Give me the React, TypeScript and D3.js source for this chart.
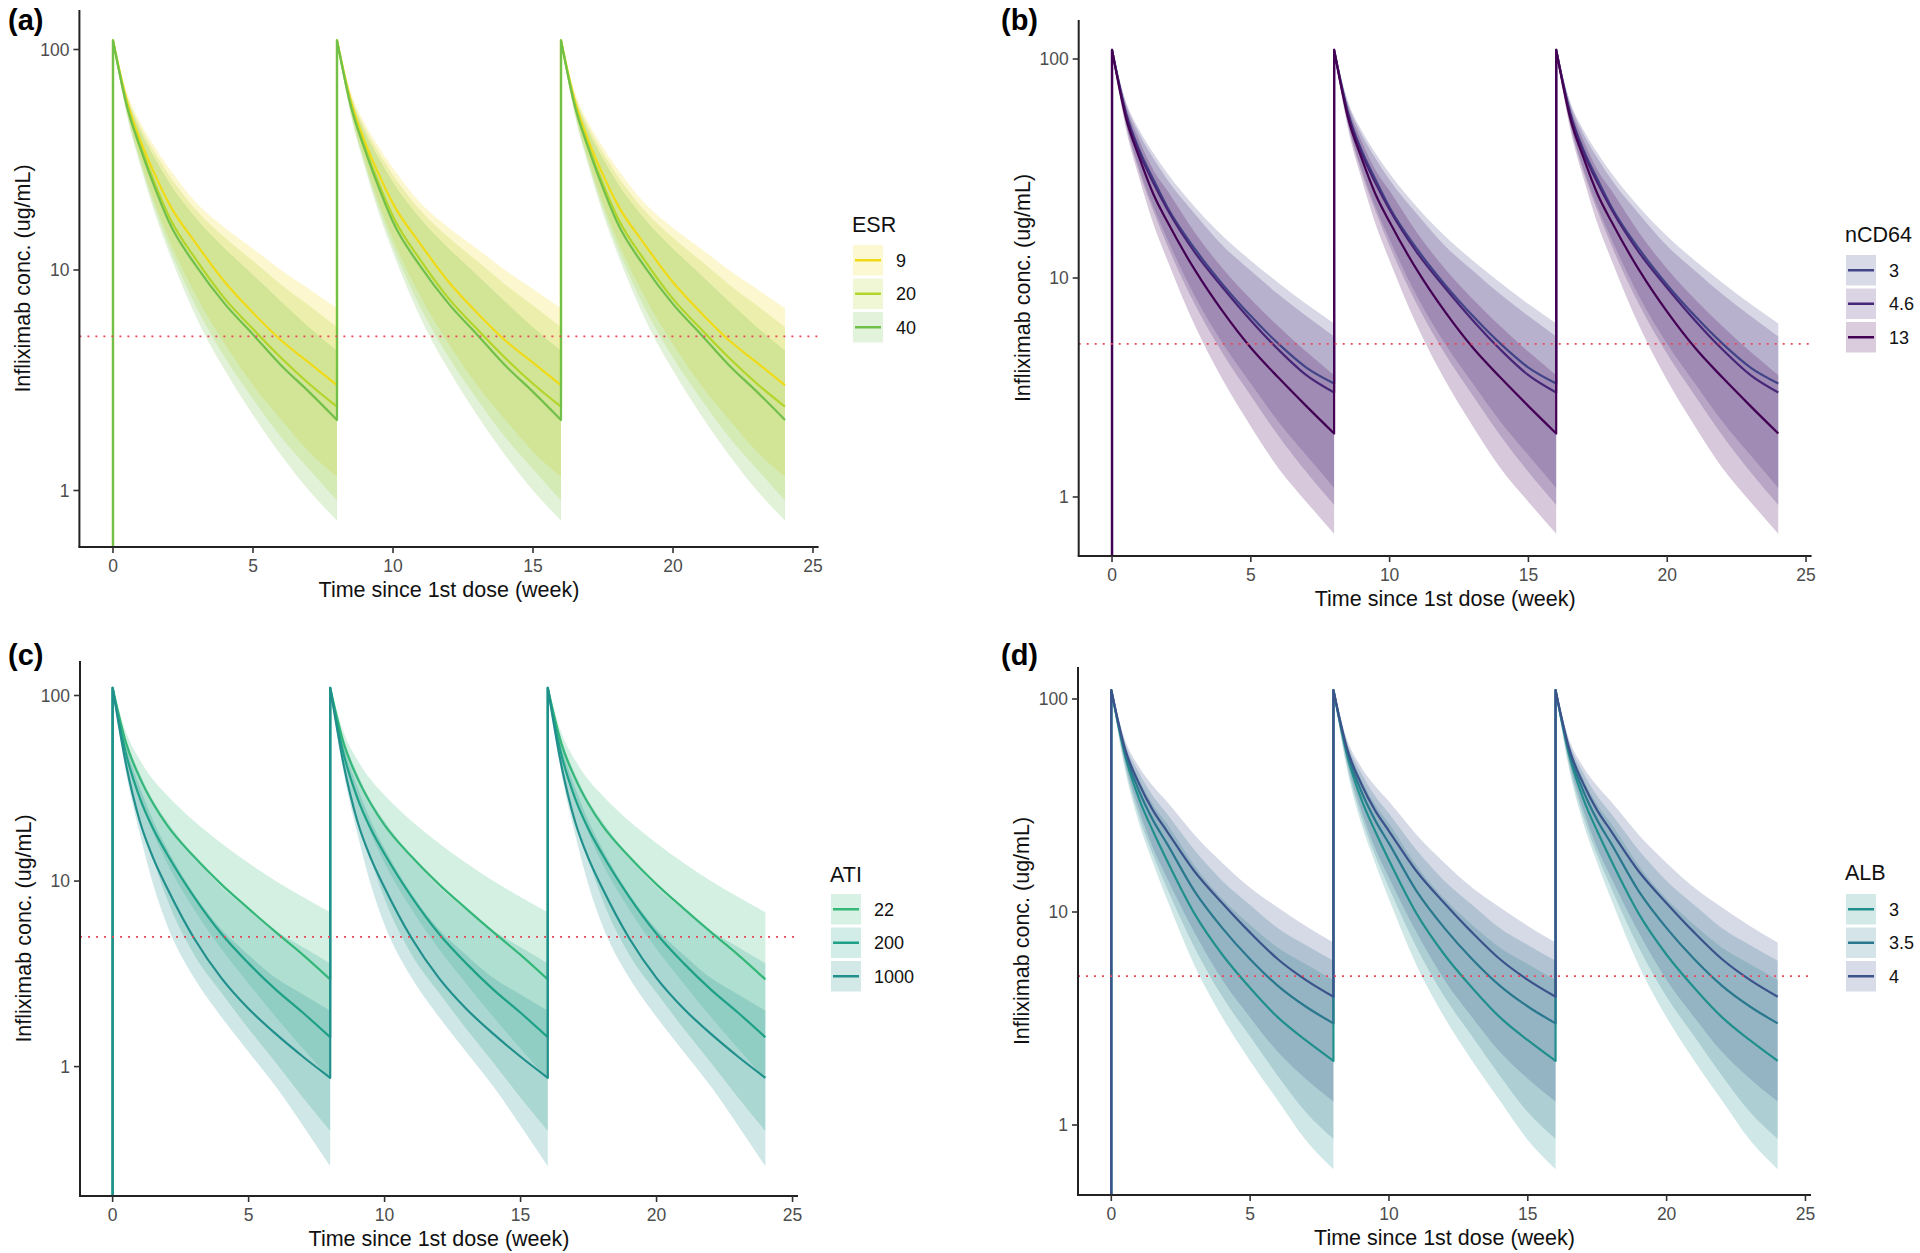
import React from "react";
import * as d3 from "d3";

// ---------- shared data ----------
const CYCLE_WEEKS = [0, 0.5, 1, 1.5, 2, 3, 4, 5, 6, 7, 8];
const DOSE_WEEKS = [0, 8, 16];
const X_TICKS = [0, 5, 10, 15, 20, 25];
const Y_TICKS = [1, 10, 100];
const TARGET_CONC = 5;
const X_TITLE = "Time since 1st dose (week)";
const Y_TITLE = "Infliximab conc. (ug/mL)";

// ---------- (a) ESR ----------
const ESR_LEVELS = ["9", "20", "40"];
const ESR_COLORS = ["#F0DA18", "#B3D52B", "#70C04A"];
const ESR_MEDIAN = [
  [110, 58, 38, 27, 20, 13, 8.8, 6.4, 4.8, 3.8, 3.0],
  [110, 56, 36, 24.5, 17.5, 11, 7.4, 5.4, 4.0, 3.05, 2.4],
  [110, 55, 35, 23.5, 16.5, 10.3, 7.0, 5.1, 3.7, 2.8, 2.09],
];
const ESR_UPPER = [
  [112, 64, 46, 36, 29, 20, 15.5, 12.5, 10, 8.2, 6.7],
  [111, 62, 44, 34, 27, 18.5, 14, 11, 8.6, 6.9, 5.5],
  [111, 61, 42, 32, 25, 17, 12.5, 9.5, 7.2, 5.5, 4.3],
];
const ESR_LOWER = [
  [108, 52, 31, 20, 13.8, 7.5, 4.6, 3.0, 2.1, 1.5, 1.15],
  [108, 51, 30, 19, 12.8, 6.7, 4.0, 2.6, 1.75, 1.25, 0.9],
  [108, 50, 29, 18, 12, 6.0, 3.5, 2.2, 1.45, 1.0, 0.73],
];

// ---------- (b) nCD64 ----------
const NCD64_LEVELS = ["3", "4.6", "13"];
const NCD64_COLORS = ["#414487", "#482677", "#440154"];
const NCD64_MEDIAN = [
  [110, 57, 38, 28, 21, 13.5, 9.3, 6.7, 5.0, 3.9, 3.3],
  [110, 56, 37, 27, 20.5, 13, 9.0, 6.4, 4.7, 3.6, 3.0],
  [110, 54, 35, 24, 18, 10.8, 7.0, 4.8, 3.5, 2.6, 1.95],
];
const NCD64_UPPER = [
  [112, 64, 47, 37, 30, 21, 15.5, 12, 9.5, 7.6, 6.2],
  [112, 63, 45, 35, 28, 19.5, 14, 10.8, 8.4, 6.7, 5.4],
  [111, 61, 42, 31, 25, 16, 11, 8.0, 6.0, 4.6, 3.6],
];
const NCD64_LOWER = [
  [108, 51, 31, 21, 15, 8.2, 5.0, 3.3, 2.2, 1.55, 1.1],
  [108, 50, 30, 20, 14, 7.5, 4.5, 2.9, 1.9, 1.3, 0.92],
  [108, 48, 28, 17.5, 12, 6.0, 3.4, 2.1, 1.35, 0.95, 0.68],
];

// ---------- (c) ATI ----------
const ATI_LEVELS = ["22", "200", "1000"];
const ATI_COLORS = ["#35B779", "#1FA187", "#21908C"];
const ATI_MEDIAN = [
  [110, 55, 36, 26, 20, 13.5, 9.6, 7.1, 5.3, 4.0, 2.95],
  [110, 48, 28, 19, 14, 8.2, 5.2, 3.6, 2.6, 1.95, 1.44],
  [110, 42, 21, 13.2, 9.2, 4.9, 3.0, 2.05, 1.5, 1.13, 0.87],
];
const ATI_UPPER = [
  [112, 63, 45, 35, 29, 21, 16, 12.5, 10, 8.2, 6.8],
  [111, 58, 38, 27, 21, 13.5, 9.3, 7.0, 5.4, 4.4, 3.6],
  [111, 53, 32, 21, 15, 8.5, 5.5, 4.0, 3.0, 2.45, 2.0],
];
const ATI_LOWER = [
  [108, 48, 28, 18, 12.5, 7.0, 4.3, 2.8, 1.85, 1.25, 0.85],
  [108, 42, 22, 13, 8.0, 4.0, 2.5, 1.6, 1.05, 0.68, 0.45],
  [108, 38, 18, 9.5, 5.8, 3.0, 1.85, 1.2, 0.78, 0.48, 0.29],
];

// ---------- (d) ALB ----------
const ALB_LEVELS = ["3", "3.5", "4"];
const ALB_COLORS = ["#21908C", "#2A788E", "#3B528B"];
const ALB_MEDIAN = [
  [110, 54, 34, 24, 17.5, 9.8, 6.3, 4.4, 3.2, 2.5, 2.0],
  [110, 56, 37, 27, 21, 12.5, 8.4, 6.0, 4.5, 3.6, 3.0],
  [110, 58, 40, 30, 24, 15.5, 11, 8.0, 6.0, 4.8, 4.0],
];
const ALB_UPPER = [
  [111, 60, 42, 32, 26, 16.5, 11.5, 8.7, 6.8, 5.7, 4.8],
  [112, 62, 45, 35, 29, 19.5, 14, 10.8, 8.4, 7.0, 5.9],
  [112, 64, 48, 39, 33, 23, 17, 13, 10.5, 8.6, 7.2],
];
const ALB_LOWER = [
  [108, 46, 26, 17, 11.5, 5.6, 3.2, 2.0, 1.3, 0.85, 0.62],
  [108, 48, 28, 18.5, 13, 6.8, 4.0, 2.6, 1.7, 1.15, 0.86],
  [108, 50, 30, 20, 14.5, 8.0, 4.8, 3.2, 2.2, 1.65, 1.29],
];

// ---------- layout (positions only) ----------
const PANELS = [
  {
    tag: "(a)", tagX: 8, tagY: 30, name: "ESR",
    levels: ESR_LEVELS, colors: ESR_COLORS, median: ESR_MEDIAN, upper: ESR_UPPER, lower: ESR_LOWER,
    x0: 79.4, x1: 818.6, top: 10, bottom: 547, y100: 49.5, y1: 490.5,
    legX: 852, legTitleY: 232, legTop: 245,
  },
  {
    tag: "(b)", tagX: 1001, tagY: 30, name: "nCD64",
    levels: NCD64_LEVELS, colors: NCD64_COLORS, median: NCD64_MEDIAN, upper: NCD64_UPPER, lower: NCD64_LOWER,
    x0: 1078.7, x1: 1811.6, top: 20, bottom: 556, y100: 59, y1: 497,
    legX: 1845, legTitleY: 242, legTop: 255,
  },
  {
    tag: "(c)", tagX: 8, tagY: 665, name: "ATI",
    levels: ATI_LEVELS, colors: ATI_COLORS, median: ATI_MEDIAN, upper: ATI_UPPER, lower: ATI_LOWER,
    x0: 80, x1: 798, top: 661, bottom: 1196, y100: 695.5, y1: 1066.6,
    legX: 830, legTitleY: 882, legTop: 894,
  },
  {
    tag: "(d)", tagX: 1001, tagY: 665, name: "ALB",
    levels: ALB_LEVELS, colors: ALB_COLORS, median: ALB_MEDIAN, upper: ALB_UPPER, lower: ALB_LOWER,
    x0: 1078, x1: 1811, top: 667, bottom: 1195, y100: 699, y1: 1125,
    legX: 1845, legTitleY: 880, legTop: 894,
  },
];

const FONT = "'Liberation Sans', Arial, Helvetica, sans-serif";

function Panel({ p, idx }: { p: any; idx: number }) {
  const xs = d3.scaleLinear().domain([-1.2, 25.2]).range([p.x0, p.x1]);
  const ys = d3.scaleLog().domain([1, 100]).range([p.y1, p.y100]);
  const clipId = `clip-${idx}`;

  const lineGen = d3
    .line<[number, number]>()
    .x((d) => xs(d[0]))
    .y((d) => ys(d[1]))
    .curve(d3.curveMonotoneX);

  const areaGen = d3
    .area<[number, number, number]>()
    .x((d) => xs(d[0]))
    .y0((d) => ys(d[1]))
    .y1((d) => ys(d[2]))
    .curve(d3.curveMonotoneX);

  const ribbons: any[] = [];
  const lines: any[] = [];
  p.levels.forEach((lev: string, g: number) => {
    let path = `M${xs(0)},${p.bottom}`;
    DOSE_WEEKS.forEach((dose, k) => {
      const pts: [number, number][] = CYCLE_WEEKS.map((t, i) => [dose + t, p.median[g][i]]);
      const seg = lineGen(pts) as string;
      path += "L" + seg.slice(1);
      const band: [number, number, number][] = CYCLE_WEEKS.map((t, i) => [
        dose + t,
        p.lower[g][i],
        p.upper[g][i],
      ]);
      ribbons.push(
        <path key={`r${g}-${k}`} d={areaGen(band) as string} fill={p.colors[g]} fillOpacity={0.21} stroke="none" />
      );
    });
    lines.push(
      <path key={`l${g}`} d={path} fill="none" stroke={p.colors[g]} strokeWidth={2.2} strokeLinejoin="round" />
    );
  });

  const midX = (p.x0 + p.x1) / 2;
  const midY = (p.top + p.bottom) / 2;
  const keyH = 30.5;
  const keyStep = 33.5;

  return (
    <g>
      <defs>
        <clipPath id={clipId}>
          <rect x={p.x0} y={p.top} width={p.x1 - p.x0} height={p.bottom - p.top} />
        </clipPath>
      </defs>
      <g clipPath={`url(#${clipId})`}>
        {ribbons}
        {lines}
        <line
          x1={p.x0}
          x2={p.x1}
          y1={ys(TARGET_CONC)}
          y2={ys(TARGET_CONC)}
          stroke="#E8485A"
          strokeWidth={1.8}
          strokeDasharray="2,6"
        />
      </g>
      {/* axes */}
      <line x1={p.x0} x2={p.x0} y1={p.top} y2={p.bottom} stroke="#222" strokeWidth={2} />
      <line x1={p.x0 - 1} x2={p.x1} y1={p.bottom} y2={p.bottom} stroke="#222" strokeWidth={2} />
      {Y_TICKS.map((v) => (
        <g key={`yt${v}`}>
          <line x1={p.x0 - 6} x2={p.x0} y1={ys(v)} y2={ys(v)} stroke="#333" strokeWidth={1.6} />
          <text x={p.x0 - 10} y={ys(v)} dy="0.35em" textAnchor="end" fontSize={17.5} fill="#4D4D4D" fontFamily={FONT}>
            {v}
          </text>
        </g>
      ))}
      {X_TICKS.map((v) => (
        <g key={`xt${v}`}>
          <line x1={xs(v)} x2={xs(v)} y1={p.bottom} y2={p.bottom + 6} stroke="#333" strokeWidth={1.6} />
          <text x={xs(v)} y={p.bottom + 25} textAnchor="middle" fontSize={17.5} fill="#4D4D4D" fontFamily={FONT}>
            {v}
          </text>
        </g>
      ))}
      <text x={midX} y={p.bottom + 50} textAnchor="middle" fontSize={21.5} fill="#111" fontFamily={FONT}>
        {X_TITLE}
      </text>
      <text
        transform={`translate(${p.x0 - 49},${midY}) rotate(-90)`}
        textAnchor="middle"
        fontSize={21.5}
        fill="#111"
        fontFamily={FONT}
      >
        {Y_TITLE}
      </text>
      <text x={p.tagX} y={p.tagY} fontSize={29} fontWeight="bold" fill="#000" fontFamily={FONT}>
        {p.tag}
      </text>
      {/* legend */}
      <text x={p.legX} y={p.legTitleY} fontSize={21.5} fill="#111" fontFamily={FONT}>
        {p.name}
      </text>
      {p.levels.map((lev: string, g: number) => {
        const ky = p.legTop + g * keyStep;
        return (
          <g key={`lg${g}`}>
            <rect x={p.legX + 1} y={ky} width={30} height={keyH} fill={p.colors[g]} fillOpacity={0.2} />
            <line
              x1={p.legX + 3}
              x2={p.legX + 29}
              y1={ky + keyH / 2}
              y2={ky + keyH / 2}
              stroke={p.colors[g]}
              strokeWidth={2.5}
            />
            <text x={p.legX + 44} y={ky + keyH / 2} dy="0.36em" fontSize={18} fill="#111" fontFamily={FONT}>
              {lev}
            </text>
          </g>
        );
      })}
    </g>
  );
}

export default function App() {
  return (
    <svg
      width={1920}
      height={1253}
      style={{ position: "absolute", left: 0, top: 0, display: "block", background: "#fff" }}
    >
      <rect x={0} y={0} width={1920} height={1253} fill="#fff" />
      {PANELS.map((p, i) => (
        <Panel key={i} p={p} idx={i} />
      ))}
    </svg>
  );
}
